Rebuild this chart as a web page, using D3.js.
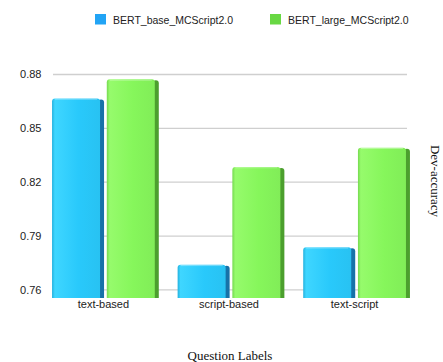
<!DOCTYPE html>
<html>
<head>
<meta charset="utf-8">
<script src="https://cdn.jsdelivr.net/npm/d3@7/dist/d3.min.js"></script>
<style>
  html, body { margin: 0; padding: 0; background: #fff; }
  svg { display: block; }
</style>
</head>
<body>
<svg id="chart" width="443" height="362"></svg>
<script>
// Question-label categories and dev accuracy for each model
const categories = ["text-based", "script-based", "text-script"];
const seriesNames = ["BERT_base_MCScript2.0", "BERT_large_MCScript2.0"];
const baseValues = [0.8667, 0.7740, 0.7838];
const largeValues = [0.8773, 0.8285, 0.8392];
const yTicks = [0.76, 0.79, 0.82, 0.85, 0.88];

const seriesValues = [baseValues, largeValues];
const palette = [
  { face: "#29c9fb", light: "#3fd6ff", side: "#1772a8" },
  { face: "#86f65b", light: "#96fb6c", side: "#4c9f2e" }
];

const svg = d3.select("#chart");
const defs = svg.append("defs");

palette.forEach((c, i) => {
  const g = defs.append("linearGradient")
    .attr("id", "face" + i).attr("x1", "0%").attr("x2", "100%").attr("y1", "0%").attr("y2", "0%");
  g.append("stop").attr("offset", "0%").attr("stop-color", d3.color(c.face).darker(0.35));
  g.append("stop").attr("offset", "6%").attr("stop-color", c.light);
  g.append("stop").attr("offset", "55%").attr("stop-color", c.face);
  g.append("stop").attr("offset", "100%").attr("stop-color", d3.color(c.face).darker(0.1));
});

const x0 = d3.scaleBand().domain(categories).range([42, 420])
  .paddingInner(0.15).paddingOuter(0.08);
const x1 = d3.scaleBand().domain(seriesNames).range([0, x0.bandwidth()]).paddingInner(0.05);
const y = d3.scaleLinear().domain([0.7555, 0.88]).range([298, 74.5]);

// Horizontal gridlines
svg.append("g").selectAll("line").data(yTicks).join("line")
  .attr("x1", 53).attr("x2", 407)
  .attr("y1", d => y(d)).attr("y2", d => y(d))
  .attr("stroke", "#cfcfcf").attr("stroke-width", 1.3);

// Y tick labels
svg.append("g").selectAll("text").data(yTicks).join("text")
  .attr("x", 41.5).attr("y", d => y(d))
  .attr("dy", "0.36em").attr("text-anchor", "end")
  .attr("font-family", "Liberation Sans, Arial, sans-serif").attr("font-size", 11)
  .attr("fill", "#222")
  .text(d => d.toFixed(2));

// Rounded-top bar outline
function barPath(x, yTop, w, yBot, r) {
  return `M${x},${yBot} L${x},${yTop + r} Q${x},${yTop} ${x + r},${yTop}` +
    ` L${x + w - r},${yTop} Q${x + w},${yTop} ${x + w},${yTop + r} L${x + w},${yBot} Z`;
}

const bars = [];
categories.forEach((cat, ci) => {
  seriesNames.forEach((s, si) => {
    bars.push({ cat, s, si, v: seriesValues[si][ci] });
  });
});

const side = 4;
const barG = svg.append("g").selectAll("g").data(bars).join("g")
  .attr("transform", d => `translate(${x0(d.cat) + x1(d.s)},0)`);

// dark right-hand side
barG.append("path")
  .attr("d", d => barPath(x1.bandwidth() - side - 2, y(d.v) + 1, side + 2, y.range()[0], 3))
  .attr("fill", d => palette[d.si].side);

// front face
barG.append("path")
  .attr("d", d => barPath(0, y(d.v), x1.bandwidth() - side, y.range()[0], 3))
  .attr("fill", d => `url(#face${d.si})`);

// subtle top highlight
barG.append("line")
  .attr("x1", 3).attr("x2", x1.bandwidth() - side - 3)
  .attr("y1", d => y(d.v) + 0.8).attr("y2", d => y(d.v) + 0.8)
  .attr("stroke", "#ffffff").attr("stroke-opacity", 0.35).attr("stroke-width", 1);

// Category labels
svg.append("g").selectAll("text").data(categories).join("text")
  .attr("x", d => x0(d) + x0.bandwidth() / 2 - 2).attr("y", 308)
  .attr("text-anchor", "middle")
  .attr("font-family", "Liberation Sans, Arial, sans-serif").attr("font-size", 11)
  .attr("fill", "#222")
  .text(d => d);

// Legend
const legendX = [95, 270];
const legend = svg.append("g").selectAll("g").data(seriesNames).join("g")
  .attr("transform", (d, i) => `translate(${legendX[i]},14)`);
legend.append("rect").attr("width", 11).attr("height", 10.5)
  .attr("fill", (d, i) => i === 0 ? "#22a4f5" : "#68d843");
legend.append("text").attr("x", 18).attr("y", 9.5)
  .attr("font-family", "Liberation Sans, Arial, sans-serif").attr("font-size", 10.5)
  .attr("fill", "#222")
  .text(d => d);

// Axis titles
svg.append("text")
  .attr("x", 230).attr("y", 359.5).attr("text-anchor", "middle")
  .attr("font-family", "Liberation Serif, Times New Roman, serif").attr("font-size", 13)
  .attr("fill", "#111")
  .text("Question Labels");

svg.append("text")
  .attr("transform", "translate(431,181) rotate(90)")
  .attr("text-anchor", "middle")
  .attr("font-family", "Liberation Serif, Times New Roman, serif").attr("font-size", 13)
  .attr("fill", "#111")
  .text("Dev-accuracy");
</script>
</body>
</html>
